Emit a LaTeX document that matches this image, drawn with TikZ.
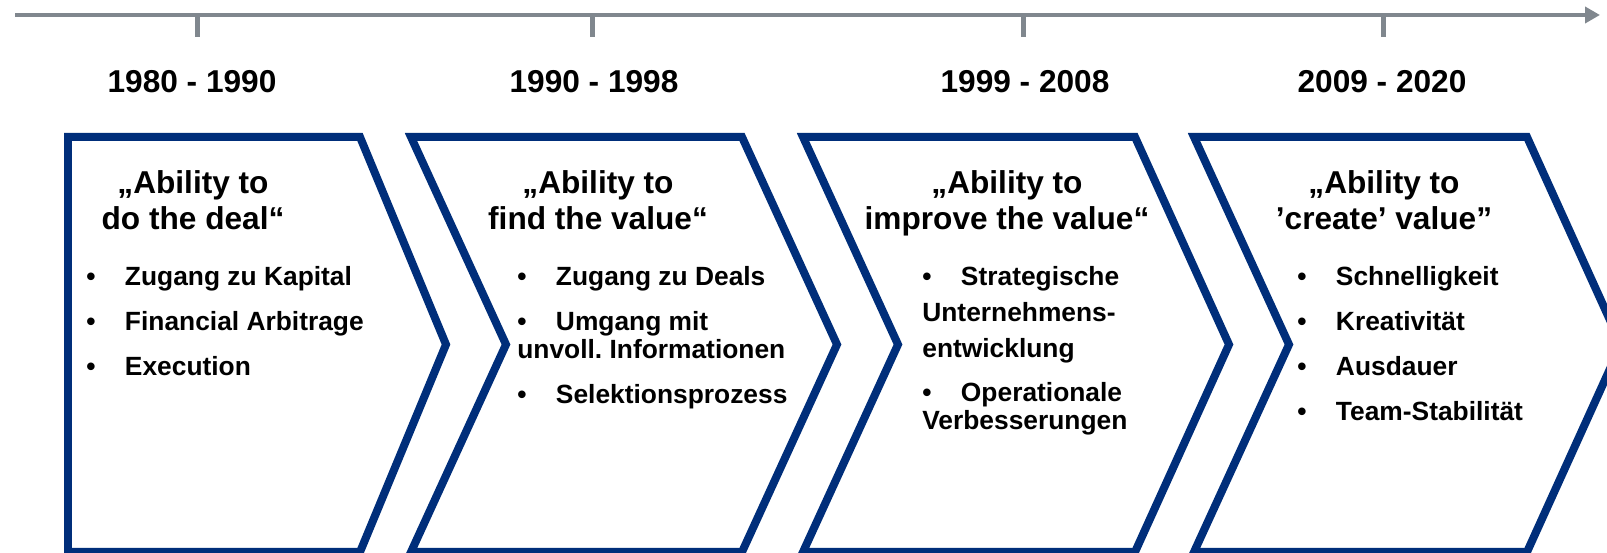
\documentclass[tikz,border=0pt]{standalone}
\usepackage{fontspec}
\setmainfont{Liberation Sans}
\usepackage{xcolor}
\usetikzlibrary{arrows.meta}

\definecolor{navy}{RGB}{0,46,122}
\definecolor{axisgray}{RGB}{128,135,142}

% bullet with a fixed tab before the item text
\newcommand{\itembul}{\makebox[22pt][l]{•}}

\begin{document}
\begin{tikzpicture}[x=0.02cm,y=-0.02cm,
    axis/.style={draw=axisgray,line width=0.094cm},
    tick/.style={draw=axisgray,line width=0.1cm},
    chev/.style={draw=navy,line width=0.16cm,line join=miter},
    year/.style={anchor=base,inner sep=0pt,font=\fontsize{18}{22}\selectfont\bfseries},
    head/.style={anchor=base,align=center,inner sep=0pt,font=\fontsize{18}{21}\selectfont\bfseries},
    item/.style={anchor=base west,align=left,inner sep=0pt,font=\fontsize{15}{16}\selectfont\bfseries}]

        \useasboundingbox (0,0) rectangle (1607,553);
        \clip (0,0) rectangle (1607,553);

        % time axis
        \coordinate (t0) at (15,15);
        \coordinate (t1) at (1600,15);
        \coordinate (k1) at (197,15);
        \coordinate (k2) at (592,15);
        \coordinate (k3) at (1023,15);
        \coordinate (k4) at (1383,15);

        \draw[axis,-{Triangle[length=0.3cm,width=0.32cm]}] (t0) -- (t1);
        \draw[tick] (k1) -- ++(0,22);
        \draw[tick] (k2) -- ++(0,22);
        \draw[tick] (k3) -- ++(0,22);
        \draw[tick] (k4) -- ++(0,22);

        \node[year] (y1) at (192,93) {1980 - 1990};
        \node[year] (y2) at (594,93) {1990 - 1998};
        \node[year] (y3) at (1025,93) {1999 - 2008};
        \node[year] (y4) at (1382,93) {2009 - 2020};

        % phases
        \draw[chev] (68,137) -- (360,137) -- (446,344.5) -- (360,552) -- (68,552) -- cycle;
        \draw[chev] (411,137) -- (742,137) -- (837,344.5) -- (742,552) -- (411,552) -- (506,344.5) -- cycle;
        \draw[chev] (803,137) -- (1135,137) -- (1229,344.5) -- (1135,552) -- (803,552) -- (898,344.5) -- cycle;
        \draw[chev] (1194,137) -- (1527,137) -- (1621,344.5) -- (1527,552) -- (1194,552) -- (1289,344.5) -- cycle;

        % multi-line nodes sit on the baseline of their last line
        \node[head] (h1) at (193,230) {„Ability to\\do the deal“};
        \node[head] (h2) at (598,230) {„Ability to\\find the value“};
        \node[head] (h3) at (1007,230) {„Ability to\\improve the value“};
        \node[head] (h4) at (1384,230) {„Ability to\\’create’ value”};

        \node[item] (a1) at (86,286) {\itembul Zugang zu Kapital};
        \node[item] (a2) at (86,331) {\itembul Financial Arbitrage};
        \node[item] (a3) at (86,376) {\itembul Execution};

        \node[item] (b1) at (517,286) {\itembul Zugang zu Deals};
        \node[item] (b2) at (517,359) {\itembul Umgang mit\\unvoll.\ Informationen};
        \node[item] (b3) at (517,404) {\itembul Selektionsprozess};

        \node[item] (c1) at (922,358) {\itembul Strategische\\[4pt]Unternehmens-\\[5pt]entwicklung};
        \node[item] (c2) at (922,430) {\itembul Operationale\\Verbesserungen};

        \node[item] (d1) at (1297,286) {\itembul Schnelligkeit};
        \node[item] (d2) at (1297,331) {\itembul Kreativität};
        \node[item] (d3) at (1297,376) {\itembul Ausdauer};
        \node[item] (d4) at (1297,421) {\itembul Team-Stabilität};

      \end{tikzpicture}
\end{document}
